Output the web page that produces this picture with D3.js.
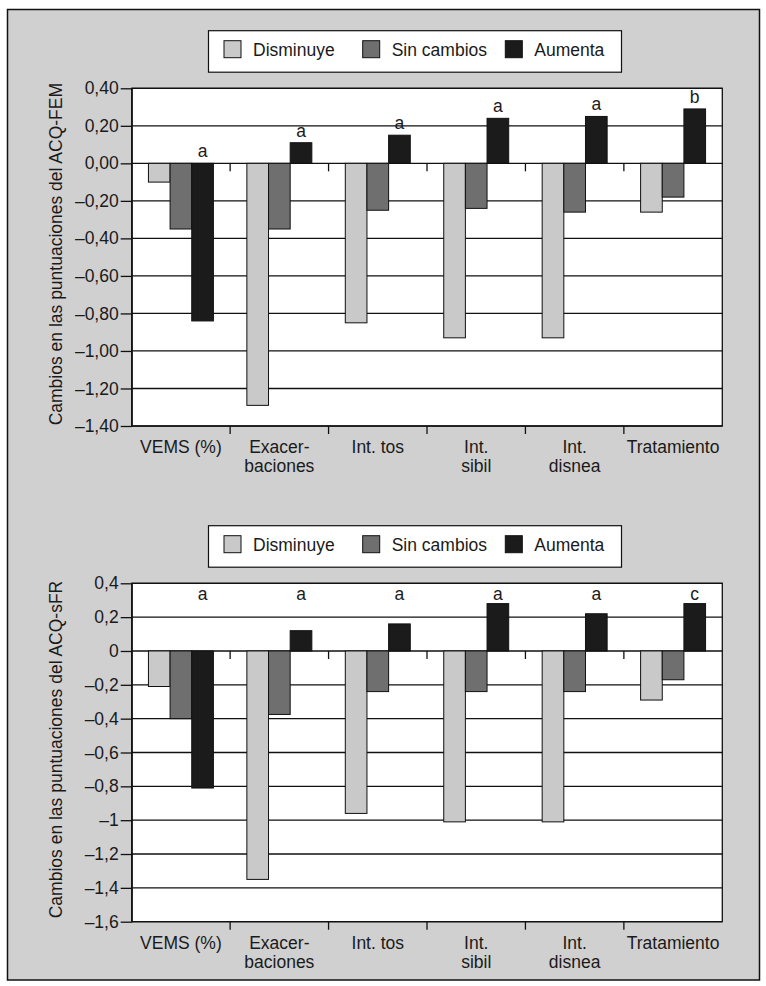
<!DOCTYPE html>
<html>
<head>
<meta charset="utf-8">
<script src="https://cdn.jsdelivr.net/npm/d3@7"></script>
<style>
  body { margin: 0; background: #fff; }
  text { font-family: "Liberation Sans", Arial, sans-serif; fill: #1a1a1a; }
</style>
</head>
<body>
<div id="chart"></div>
<script>
// categories and series
var categories = ["VEMS (%)", "Exacer-|baciones", "Int. tos", "Int.|sibil", "Int.|disnea", "Tratamiento"];
var series = ["Disminuye", "Sin cambios", "Aumenta"];
var colors = ["#c9c9c9", "#6f6f6f", "#1b1b1b"];

// ACQ-FEM
var femDisminuye = [-0.10, -1.29, -0.85, -0.93, -0.93, -0.26];
var femSinCambios = [-0.35, -0.35, -0.25, -0.24, -0.26, -0.18];
var femAumenta = [-0.84, 0.11, 0.15, 0.24, 0.25, 0.29];
var femLetters = ["a", "a", "a", "a", "a", "b"];
var femTicks = [0.4, 0.2, 0, -0.2, -0.4, -0.6, -0.8, -1.0, -1.2, -1.4];

// ACQ-sFR
var sfrDisminuye = [-0.21, -1.35, -0.96, -1.01, -1.01, -0.29];
var sfrSinCambios = [-0.40, -0.375, -0.24, -0.24, -0.24, -0.17];
var sfrAumenta = [-0.81, 0.12, 0.16, 0.28, 0.22, 0.28];
var sfrLetters = ["a", "a", "a", "a", "a", "c"];
var sfrTicks = [0.4, 0.2, 0, -0.2, -0.4, -0.6, -0.8, -1.0, -1.2, -1.4, -1.6];

var W = 766, H = 986;
var loc = d3.formatLocale({decimal: ",", thousands: ".", grouping: [3], currency: ["", ""], minus: "\u2013"});

var svg = d3.select("#chart").append("svg")
	.attr("width", W)
	.attr("height", H);

// outer grey frame
svg.append("rect")
	.attr("x", 7.5).attr("y", 9.5)
	.attr("width", 752).attr("height", 970.5)
	.attr("fill", "#d0d0d0")
	.attr("stroke", "#111")
	.attr("stroke-width", 1.5);

function drawChart(opt) {
	var vals = [opt.dis, opt.sin, opt.aum];
	var left = 131.7, right = 722.3;

	var y = d3.scaleLinear().domain(opt.domain).range([opt.bottom, opt.top]);
	var x0 = d3.scaleBand().domain(categories).range([left, right])
		.paddingInner(0.34).paddingOuter(0.17);
	var x1 = d3.scaleBand().domain(series).range([0, x0.bandwidth()]);
	var step = x0.step();

	var g = svg.append("g");

	// legend
	var lg = g.append("g");
	lg.append("rect")
		.attr("x", 208.5).attr("y", opt.legendY)
		.attr("width", 413).attr("height", 41.5)
		.attr("fill", "#fff").attr("stroke", "#111").attr("stroke-width", 1.2);
	var legX = [224, 362.7, 505.3];
	series.forEach(function (s, i) {
		lg.append("rect")
			.attr("x", legX[i]).attr("y", opt.legendY + 10)
			.attr("width", 17).attr("height", 17)
			.attr("fill", colors[i]).attr("stroke", "#111");
		lg.append("text")
			.attr("x", legX[i] + 29).attr("y", opt.legendY + 25)
			.attr("font-size", "17.5px")
			.text(s);
	});

	// plot background
	g.append("rect")
		.attr("x", left).attr("y", opt.top)
		.attr("width", right - left).attr("height", opt.bottom - opt.top)
		.attr("fill", "#fff").attr("stroke", "#111").attr("stroke-width", 1.3);

	// gridlines
	g.append("g").selectAll("line").data(opt.ticks).join("line")
		.attr("x1", left).attr("x2", right)
		.attr("y1", function (d) { return y(d); })
		.attr("y2", function (d) { return y(d); })
		.attr("stroke", "#111").attr("stroke-width", 1.3);

	// bars
	series.forEach(function (s, i) {
		g.append("g").selectAll("rect").data(vals[i]).join("rect")
			.attr("x", function (d, j) { return x0(categories[j]) + x1(s); })
			.attr("width", x1.bandwidth())
			.attr("y", function (d) { return y(Math.max(0, d)); })
			.attr("height", function (d) { return Math.abs(y(d) - y(0)); })
			.attr("fill", colors[i])
			.attr("stroke", "#111").attr("stroke-width", 1);
	});

	// category separator ticks
	var seps = d3.range(1, categories.length).map(function (i) { return left + i * step; });
	[y(0), opt.bottom].forEach(function (yy) {
		g.append("g").selectAll("line").data(seps).join("line")
			.attr("x1", function (d) { return d; }).attr("x2", function (d) { return d; })
			.attr("y1", yy).attr("y2", yy + 8)
			.attr("stroke", "#111").attr("stroke-width", 1.3);
	});

	// letters
	g.append("g").selectAll("text").data(opt.letters).join("text")
		.attr("x", function (d, j) { return x0(categories[j]) + x1("Aumenta") + x1.bandwidth() / 2; })
		.attr("y", function (d, j) {
			if (opt.letterAt != null) return y(opt.letterAt);
			return Math.min(y(0), y(opt.aum[j])) - 6;
		})
		.attr("text-anchor", "middle")
		.attr("font-size", "17.5px")
		.text(function (d) { return d; });

	// y axis
	var ax = g.append("g")
		.attr("transform", "translate(" + left + ",0)")
		.call(d3.axisLeft(y).tickValues(opt.ticks).tickSize(11).tickSizeOuter(0).tickPadding(2)
			.tickFormat(loc.format(opt.fmt)));
	ax.select(".domain").attr("stroke", "#111").attr("stroke-width", 1.3);
	ax.selectAll(".tick line").attr("stroke", "#111").attr("stroke-width", 1.3);
	ax.selectAll(".tick text")
		.attr("font-size", "17.5px")
		.attr("font-family", "'Liberation Sans', Arial, sans-serif")
		.attr("fill", "#1a1a1a");

	// category labels
	var cl = g.append("g").selectAll("text").data(categories).join("text")
		.attr("text-anchor", "middle")
		.attr("font-size", "17.5px")
		.attr("y", opt.bottom + 27);
	cl.each(function (d) {
		var t = d3.select(this);
		var cx = x0(d) + x0.bandwidth() / 2;
		d.split("|").forEach(function (line, k) {
			t.append("tspan").attr("x", cx).attr("dy", k ? 19 : 0).text(line);
		});
	});

	// y title
	g.append("text")
		.attr("transform", "translate(62," + ((opt.top + opt.bottom) / 2 - 3) + ") rotate(-90)")
		.attr("text-anchor", "middle")
		.attr("font-size", "17.5px")
		.text(opt.title);
}

drawChart({
	dis: femDisminuye, sin: femSinCambios, aum: femAumenta,
	letters: femLetters, ticks: femTicks,
	domain: [-1.4, 0.4], top: 88.3, bottom: 426,
	legendY: 30.7, fmt: ".2f", letterAt: null,
	title: "Cambios en las puntuaciones del ACQ-FEM"
});

drawChart({
	dis: sfrDisminuye, sin: sfrSinCambios, aum: sfrAumenta,
	letters: sfrLetters, ticks: sfrTicks,
	domain: [-1.6, 0.4], top: 583.3, bottom: 921.7,
	legendY: 525.7, fmt: ".1~f", letterAt: 0.3,
	title: "Cambios en las puntuaciones del ACQ-sFR"
});
</script>
</body>
</html>
